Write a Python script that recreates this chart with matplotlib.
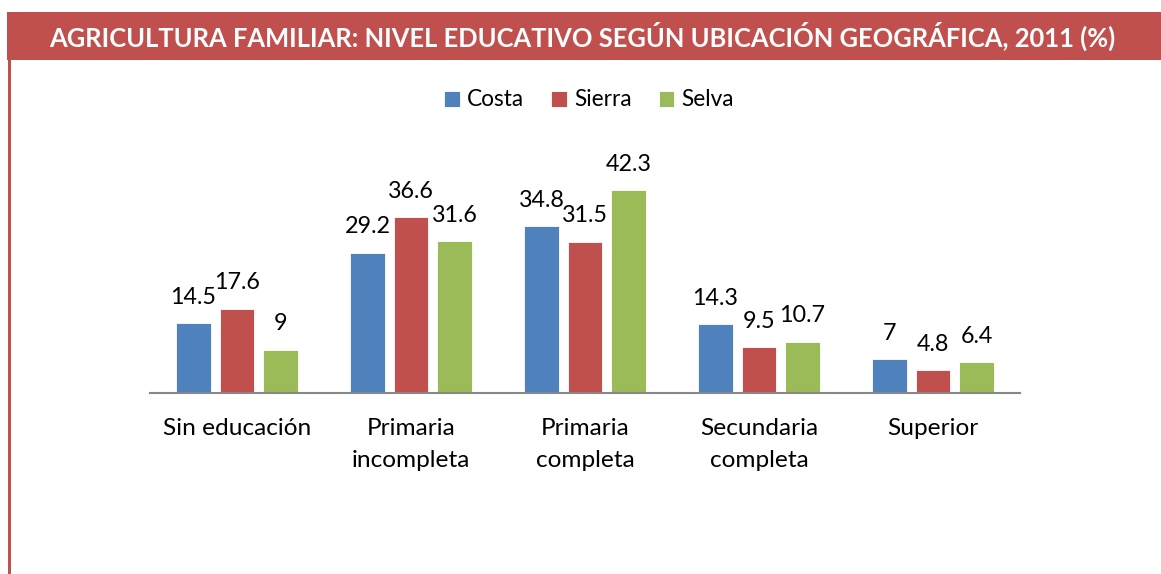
import matplotlib
matplotlib.use("Agg")
import matplotlib.pyplot as plt
from matplotlib.patches import Rectangle
import numpy as np

categories = ["Sin educación", "Primaria\nincompleta", "Primaria\ncompleta",
              "Secundaria\ncompleta", "Superior"]
series_names = ["Costa", "Sierra", "Selva"]
costa = [14.5, 29.2, 34.8, 14.3, 7]
sierra = [17.6, 36.6, 31.5, 9.5, 4.8]
selva = [9, 31.6, 42.3, 10.7, 6.4]
value_labels = [["14.5", "29.2", "34.8", "14.3", "7"],
                ["17.6", "36.6", "31.5", "9.5", "4.8"],
                ["9", "31.6", "42.3", "10.7", "6.4"]]
title = "AGRICULTURA FAMILIAR: NIVEL EDUCATIVO SEGÚN UBICACIÓN GEOGRÁFICA, 2011 (%)"

colors = ["#4F81BD", "#C0504D", "#9BBB59"]
font = "Lato"

W, H = 1161, 574
fig = plt.figure(figsize=(W / 100, H / 100), dpi=100)
fig.patch.set_facecolor("white")

# banner
fig.patches.append(Rectangle((7 / W, 1 - 60 / H), 1 - 7 / W, 48 / H,
                             transform=fig.transFigure, facecolor="#C0504D",
                             edgecolor="none", zorder=0))
fig.text(582 / W, 1 - 36 / H, title, ha="center", va="center", color="white",
         fontsize=18.4, fontweight="bold", family=font)
# left border line
fig.patches.append(Rectangle((8 / W, 0), 3 / W, 1 - 60 / H,
                             transform=fig.transFigure, facecolor="#C0504D",
                             edgecolor="none", zorder=0))

ax = fig.add_axes([150 / W, 181 / H, 870 / W, 216 / H])
x = np.arange(len(categories))
bw = 0.2
step = 0.25
for i, (vals, name) in enumerate(zip([costa, sierra, selva], series_names)):
    pos = x + (i - 1) * step
    ax.bar(pos, vals, width=bw, color=colors[i], edgecolor="white",
           linewidth=0.6, label=name, zorder=2)
    for p, v, lab in zip(pos, vals, value_labels[i]):
        ax.annotate(lab, (p, v), xytext=(0, 14), textcoords="offset points",
                    ha="center", va="baseline", fontsize=16.8, family=font,
                    color="black")

ax.set_xlim(-0.5, len(categories) - 0.5)
ax.set_ylim(0, 45)
for s in ["top", "right", "left"]:
    ax.spines[s].set_visible(False)
ax.spines["bottom"].set_color("#868686")
ax.spines["bottom"].set_linewidth(1.5)
ax.set_yticks([])
ax.set_xticks(x)
ax.set_xticklabels(categories, fontsize=17.6, family=font, linespacing=1.62)
ax.tick_params(axis="x", length=0, pad=18)
ax.set_facecolor("none")

fig.legend(loc="center", bbox_to_anchor=(589 / W, 1 - 100 / H), ncol=3,
           frameon=False, prop={"family": font, "size": 16.3},
           handlelength=0.7, handleheight=0.7, handletextpad=0.3,
           columnspacing=1.2)

fig.savefig("out.png", dpi=100)
